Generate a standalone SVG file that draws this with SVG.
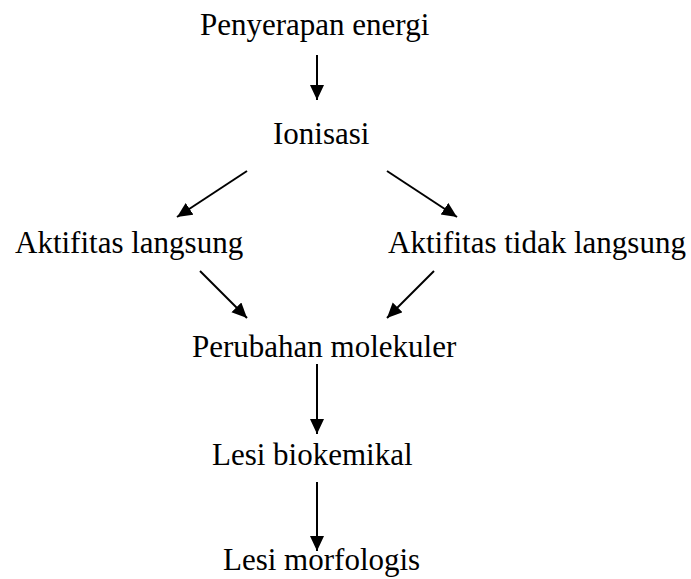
<svg xmlns="http://www.w3.org/2000/svg" width="691" height="579" viewBox="0 0 691 579">
<style>
text { font-family: "Liberation Serif", "Times New Roman", serif; font-size: 31px; fill: #000; }
.c line { stroke: #000; stroke-width: 2; marker-end: url(#ah); }
</style>
<defs>
<marker id="ah" markerUnits="userSpaceOnUse" markerWidth="16" markerHeight="16" refX="15" refY="7" orient="auto">
<path d="M0,0 L15,7 L0,14 Z" fill="#000"/>
</marker>
</defs>
<rect width="691" height="579" fill="#fff"/>
<g id="n1"><text x="200" y="35">Penyerapan energi</text></g>
<g id="n2"><text x="273" y="144">Ionisasi</text></g>
<g id="n3"><text x="15" y="253">Aktifitas langsung</text></g>
<g id="n4"><text x="388" y="253">Aktifitas tidak langsung</text></g>
<g id="n5"><text x="192" y="357">Perubahan molekuler</text></g>
<g id="n6"><text x="212" y="465">Lesi biokemikal</text></g>
<g id="n7"><text x="223" y="570">Lesi morfologis</text></g>
<g id="connectors" class="c">
<line x1="317" y1="55" x2="317" y2="100"/>
<line x1="247" y1="171" x2="177" y2="217"/>
<line x1="387" y1="171" x2="457" y2="217"/>
<line x1="200" y1="271" x2="247" y2="318"/>
<line x1="434" y1="271" x2="387" y2="318"/>
<line x1="317" y1="364" x2="317" y2="434"/>
<line x1="317" y1="482" x2="317" y2="551"/>
</g>
</svg>
